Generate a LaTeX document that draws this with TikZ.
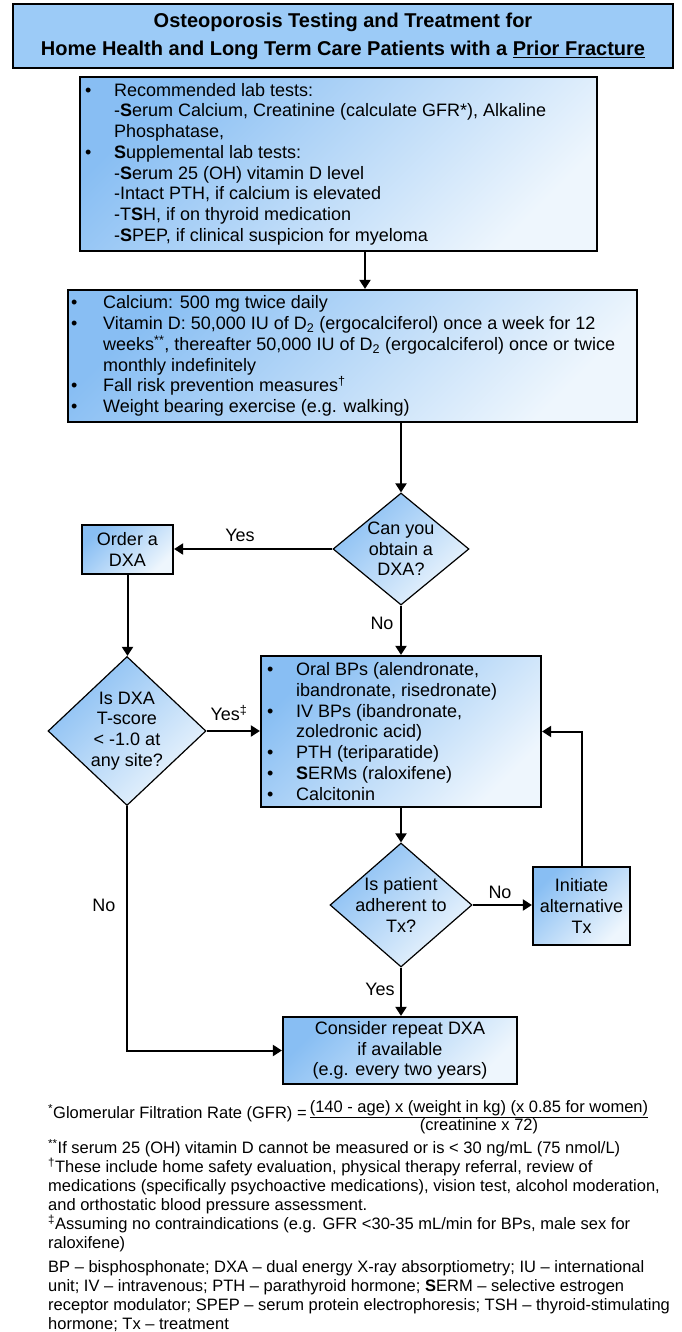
\documentclass[tikz,border=0pt]{standalone}
\usepackage{fontspec}
\setmainfont{Liberation Sans}
\usetikzlibrary{shapes.geometric,arrows.meta}
\definecolor{titleblue}{RGB}{156,203,247}
\definecolor{gdark}{RGB}{136,190,243}
\definecolor{glight}{RGB}{238,246,253}
\newcommand\bul[1]{\llap{\makebox[#1][l]{\fontsize{18}{18}\selectfont\textbullet}}}
\tikzset{
 x=1pt,y=-1pt,
 grad/.style={top color=gdark,bottom color=glight,shading angle=45},
 box/.style={draw,line width=2.2pt,rectangle,inner sep=0pt,grad},
 dia/.style={draw,line width=1.2pt,diamond,inner sep=0pt,grad},
 txt/.style={font=\fontsize{18}{20.7}\selectfont,inner sep=0pt,align=left},
 ctxt/.style={font=\fontsize{18}{20.7}\selectfont,inner sep=0pt,align=center},
 lbl/.style={font=\fontsize{18}{20.7}\selectfont,inner sep=0pt},
 arr/.style={line width=2pt,-{Triangle[length=9pt,width=11pt]}},
 foot/.style={font=\fontsize{16.5}{19}\selectfont,inner sep=0pt,align=left},
}
\begin{document}
\begin{tikzpicture}
\useasboundingbox[fill=white] (0,0) rectangle (682,1332);
% title
\node[draw,line width=2.4pt,fill=titleblue,minimum width=660pt,minimum height=64pt,inner sep=0pt,align=center,font=\fontsize{20}{28}\selectfont\bfseries] (title) at (343,36) {Osteoporosis Testing and Treatment for\\Home Health and Long Term Care Patients with a \underline{Prior Fracture}};
% box 1
\node[box,minimum width=517pt,minimum height=174pt] (b1) at (338.5,164) {};
\node[txt,anchor=west] (t1) at ([xshift=35pt]b1.west) {\bul{29pt}Recommended lab tests:\\
-\textbf{S}erum Calcium, Creatinine (calculate GFR*), Alkaline\\
Phosphatase,\\
\bul{29pt}\textbf{S}upplemental lab tests:\\
-\textbf{S}erum 25 (OH) vitamin D level\\
-Intact PTH, if calcium is elevated\\
-T\textbf{S}H, if on thyroid medication\\
-\textbf{S}PEP, if clinical suspicion for myeloma};
% box 2
\node[box,minimum width=569pt,minimum height=132pt] (b2) at (352.5,356) {};
\node[txt,anchor=west] (t2) at ([xshift=36pt]b2.west) {\bul{32pt}Calcium: 500 mg twice daily\\
\bul{32pt}Vitamin D: 50,000 IU of D\textsubscript{2} (ergocalciferol) once a week for 12\\
weeks\textsuperscript{**}, thereafter 50,000 IU of D\textsubscript{2} (ergocalciferol) once or twice\\
monthly indefinitely\\
\bul{32pt}Fall risk prevention measures\textsuperscript{†}\\
\bul{32pt}Weight bearing exercise (e.g. walking)};
% decision 1
\node[dia,minimum width=136pt,minimum height=112pt] (d1) at (401,549) {};
\node[ctxt] (d1t) at (d1) {Can you\\obtain a\\DXA?};
% order box
\node[box,ctxt,minimum width=91pt,minimum height=49pt] (ord) at (127.5,549.5) {Order a\\DXA};
% decision 2
\node[dia,minimum width=158pt,minimum height=149pt] (d2) at (127,731) {};
\node[ctxt] (d2t) at (d2) {Is DXA\\T-score\\< -1.0 at\\any site?};
% box 3
\node[box,minimum width=280pt,minimum height=151pt] (b3) at (401,731.5) {};
\node[txt,anchor=west] (t3) at ([xshift=36pt]b3.west) {\bul{29pt}Oral BPs (alendronate,\\
ibandronate, risedronate)\\
\bul{29pt}IV BPs (ibandronate,\\
zoledronic acid)\\
\bul{29pt}PTH (teriparatide)\\
\bul{29pt}\textbf{S}ERMs (raloxifene)\\
\bul{29pt}Calcitonin};
% decision 3
\node[dia,minimum width=142pt,minimum height=124pt] (d3) at (401,905) {};
\node[ctxt] (d3t) at (d3) {Is patient\\adherent to\\Tx?};
% initiate
\node[box,ctxt,minimum width=97pt,minimum height=78pt] (init) at (581.5,906) {Initiate\\alternative\\Tx};
% consider
\node[box,ctxt,minimum width=234pt,minimum height=67pt] (cons) at (400,1050.5) {Consider repeat DXA\\if available\\(e.g. every two years)};
% connectors
\coordinate (c1) at (365,0);
\draw[arr] (b1.south -| c1) -- (b2.north -| c1);
\draw[arr] (b2.south -| d1.north) -- (d1.north);
\draw[arr] (d1.west) -- (ord.east |- d1.west);
\draw[arr] (d1.south) -- (b3.north -| d1.south);
\draw[arr] (ord.south) -- (d2.north -| ord.south);
\draw[arr] (d2.east) -- (b3.west |- d2.east);
\draw[arr] (b3.south -| d3.north) -- (d3.north);
\draw[arr] (d3.east) -- (init.west |- d3.east);
\draw[arr] (init.north) |- (b3.east);
\draw[arr] (d3.south) -- (cons.north -| d3.south);
\draw[arr] (d2.south) |- (cons.west);
% labels
\node[lbl] (y1) at (240,535) {Yes};
\node[lbl] (n1) at (382,623) {No};
\node[lbl] (y2) at (229,713) {Yes\textsuperscript{‡}};
\node[lbl] (n2) at (500,892) {No};
\node[lbl] (y3) at (380,989) {Yes};
\node[lbl] (n3) at (104,905) {No};
% footnotes
\node[foot,anchor=west] (gfr) at (48,1113) {\textsuperscript{*}Glomerular Filtration Rate (GFR) =};
\node[foot,align=center,font=\fontsize{16.5}{18}\selectfont] (frac) at (479,1117) {\underline{(140 - age) x (weight in kg) (x 0.85 for women)}\\(creatinine x 72)};
\node[foot,anchor=west] (fn) at (48,1195.5) {\textsuperscript{**}If serum 25 (OH) vitamin D cannot be measured or is < 30 ng/mL (75 nmol/L)\\
\textsuperscript{†}These include home safety evaluation, physical therapy referral, review of\\
medications (specifically psychoactive medications), vision test, alcohol moderation,\\
and orthostatic blood pressure assessment.\\
\textsuperscript{‡}Assuming no contraindications (e.g. GFR <30-35 mL/min for BPs, male sex for\\
raloxifene)};
\node[foot,anchor=west] (abbr) at (48,1296.5) {BP – bisphosphonate; DXA – dual energy X-ray absorptiometry; IU – international\\
unit; IV – intravenous; PTH – parathyroid hormone; \textbf{S}ERM – selective estrogen\\
receptor modulator; SPEP – serum protein electrophoresis; TSH – thyroid-stimulating\\
hormone; Tx – treatment};
\end{tikzpicture}
\end{document}
